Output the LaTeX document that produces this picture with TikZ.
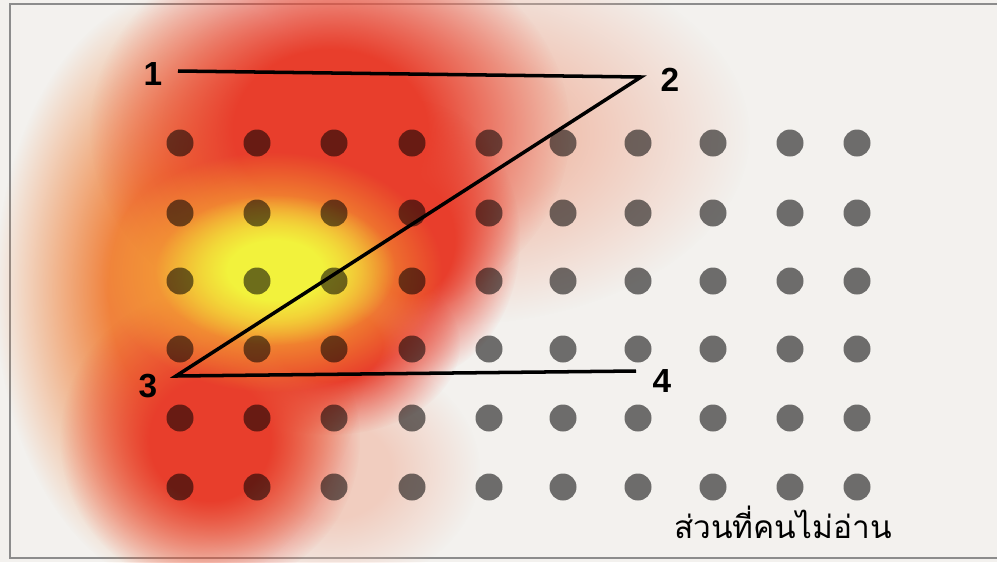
\documentclass[tikz,border=0pt]{standalone}
\usepackage{fontspec}
\setmainfont{Liberation Sans}
\newfontfamily\thaifont[Script=Thai]{Loma}
\usepackage{xcolor}
\usepackage{tikz}
\usetikzlibrary{fadings}
\definecolor{paperGray}{HTML}{F3F1EE}
\definecolor{frameGray}{HTML}{8C8C8C}
\definecolor{heatPink}{HTML}{F0B5A0}
\definecolor{heatOrange}{HTML}{F0823C}
\definecolor{heatRed}{HTML}{E83E2C}
\definecolor{heatAmber}{HTML}{F5A532}
\definecolor{heatYellow}{HTML}{F2F23C}
\definecolor{dotGray}{HTML}{737373}

% soft edged blob for the heat map
\pgfdeclareradialshading{heatblob}{\pgfpointorigin}{color(0bp)=(pgftransparent!0); color(10bp)=(pgftransparent!0); color(25bp)=(pgftransparent!100); color(50bp)=(pgftransparent!100)}
\pgfdeclarefading{heatblob}{\pgfuseshading{heatblob}}

\tikzset{
  heat/.style={fill=#1, path fading=heatblob, fit fading=true},
  eyedot/.style={fill=dotGray, blend mode=multiply},
  scanline/.style={draw=black, line width=2pt, line join=miter},
  numlabel/.style={font=\fontsize{19}{22}\selectfont\bfseries, text=black, inner sep=0pt},
  notread/.style={font=\thaifont\fontsize{18}{22}\selectfont, text=black, inner sep=0pt}
}

\begin{document}
\begin{tikzpicture}[x=0.02cm, y=-0.02cm]
  \useasboundingbox (0,0) rectangle (997,562);

  % Paper and frame
  \fill[paperGray] (0,0) rectangle (997,562);
  \draw[frameGray, line width=0.6pt] (10,4) rectangle (1010,558);

  % Heat map
  \fill[heat=heatPink, opacity=0.75] (450,135) ellipse (300 and 190);
  \fill[heat=heatPink, opacity=0.6] (330,470) ellipse (150 and 120);
  \fill[heat=heatOrange] (185,290) ellipse (190 and 300);
  \fill[heat=heatRed] (330,130) ellipse (240 and 200);
  \fill[heat=heatRed] (410,240) ellipse (110 and 140);
  \fill[heat=heatRed] (330,345) ellipse (130 and 90);
  \fill[heat=heatRed] (210,440) ellipse (150 and 150);
  \fill[heat=heatAmber] (272,272) ellipse (170 and 120);
  \fill[heat=heatYellow] (275,270) ellipse (120 and 75);

  % Dot grid
  \foreach \x in {180,257,334,412,489,563,638,713,790,857}
    \foreach \y in {143,213,281,349,418,487}
      \fill[eyedot] (\x,\y) circle [radius=13.5];

  % Reading path
  \coordinate (c1) at (178,71);
  \coordinate (c2) at (641,77);
  \coordinate (c3) at (176,376);
  \coordinate (c4) at (636,371);
  \draw[scanline] (c1) -- (c2) -- (c3) -- (c4);

  \node[numlabel] (n1) at (153,74) {1};
  \node[numlabel] (n2) at (670,80) {2};
  \node[numlabel] (n3) at (148,386) {3};
  \node[numlabel] (n4) at (662,381) {4};

  % Caption
  \node[notread, anchor=base] (caption) at (783,538) {ส่วนที่คนไม่อ่าน};
\end{tikzpicture}
\end{document}
